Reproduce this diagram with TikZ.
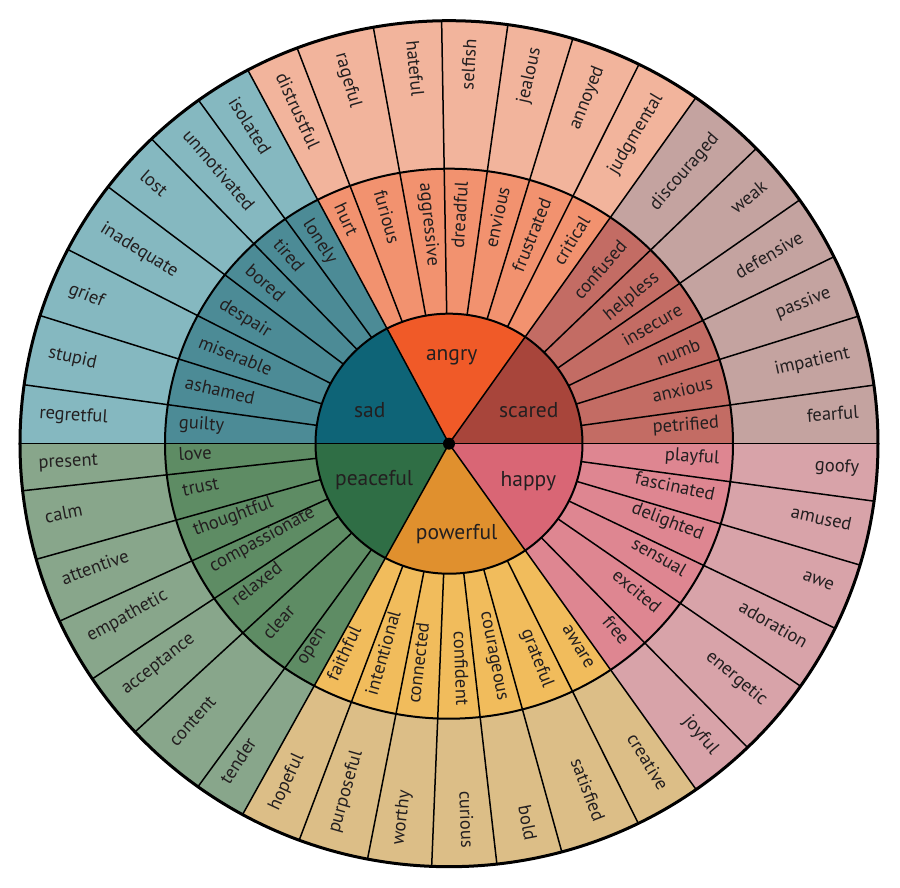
\documentclass[tikz,border=0pt]{standalone}
\usepackage{fontspec}
\setmainfont{PT Sans}
\definecolor{sadC}{HTML}{0E6477}
\definecolor{sadM}{HTML}{4C8B96}
\definecolor{sadO}{HTML}{85B8C0}
\definecolor{angC}{HTML}{F05A28}
\definecolor{angM}{HTML}{F2926F}
\definecolor{angO}{HTML}{F2B49C}
\definecolor{scaC}{HTML}{A8453B}
\definecolor{scaM}{HTML}{C36C64}
\definecolor{scaO}{HTML}{C4A3A0}
\definecolor{hapC}{HTML}{D96675}
\definecolor{hapM}{HTML}{DE8691}
\definecolor{hapO}{HTML}{D8A3A9}
\definecolor{powC}{HTML}{E0902E}
\definecolor{powM}{HTML}{F1BC5C}
\definecolor{powO}{HTML}{DCBE87}
\definecolor{peaC}{HTML}{2F6E45}
\definecolor{peaM}{HTML}{5E8C64}
\definecolor{peaO}{HTML}{88A68B}
\definecolor{txt}{HTML}{231F20}
\tikzset{
  lab/.style={font=\fontsize{18.5}{20}\selectfont, inner sep=0pt, text=txt},
  rlab/.style={lab, anchor=mid east},
  llab/.style={lab, anchor=mid west},
  corelab/.style={font=\fontsize{21.5}{24}\selectfont, inner sep=0pt, anchor=base, text=txt},
  radial/.style={line width=1.5pt, draw=black},
  ring/.style={line width=2pt, draw=black},
  rim/.style={line width=3pt, draw=black}
}
\begin{document}
\begin{tikzpicture}[x=1pt,y=1pt]
\useasboundingbox (-449,-444.3) rectangle (451,443.7);
% outer ring colours
\begin{scope}
\clip (0,0) ellipse [x radius=429pt, y radius=423pt];
\foreach \s/\e/\c in {0/54.5/scaO, 54.5/118.3/angO, 118.3/180/sadO, 180/240.9/peaO, 240.9/305.55/powO, 305.55/360/hapO}
  \fill[\c] (0,0) -- (\s:700pt) -- ({(\s+\e)/2}:700pt) -- (\e:700pt) -- cycle;
\end{scope}
% middle ring colours
\begin{scope}
\clip (0,0) ellipse [x radius=284pt, y radius=275pt];
\foreach \s/\e/\c in {0/54.5/scaM, 54.5/118.3/angM, 118.3/180/sadM, 180/240.9/peaM, 240.9/305.55/powM, 305.55/360/hapM}
  \fill[\c] (0,0) -- (\s:700pt) -- ({(\s+\e)/2}:700pt) -- (\e:700pt) -- cycle;
\end{scope}
% radial lines
\begin{scope}
\clip (0,0) ellipse [x radius=429pt, y radius=423pt];
\foreach \a in {0,7.85,17.3,25.9,34.8,43.85,54.5,63.4,73,82,91,100.3,111,118.3,126.1,134.3,143,153,162.6,172.1,180,186.3,195.65,204.5,213.4,222.55,233.8,240.9,249.3,258.9,267.65,276.5,285.45,296.5,305.55,314.5,325.4,334.45,343.55,352.3}
  \draw[radial] (0,0) -- (\a:700pt);
\end{scope}
% core
\begin{scope}
\clip (0,0) ellipse [x radius=133.5pt, y radius=130pt];
\foreach \s/\e/\c in {0/54.5/scaC, 54.5/118.3/angC, 118.3/180/sadC, 180/240.9/peaC, 240.9/305.55/powC, 305.55/360/hapC}
  \fill[\c] (0,0) -- (\s:700pt) -- ({(\s+\e)/2}:700pt) -- (\e:700pt) -- cycle;
\foreach \a in {0,54.5,118.3,180,240.9,305.55}
  \draw[radial] (0,0) -- (\a:700pt);
\end{scope}
\draw[ring] (0,0) ellipse [x radius=284pt, y radius=275pt];
\draw[ring] (0,0) ellipse [x radius=133.5pt, y radius=130pt];
\draw[rim] (0,0) ellipse [x radius=429pt, y radius=423pt];
\fill[black] (0,0) circle (6pt);
% labels, right half
\foreach \a/\o/\m [count=\i] in {3.93/fearful/petrified, 12.58/impatient/anxious, 21.6/passive/numb, 30.35/defensive/insecure, 39.33/weak/helpless, 49.18/discouraged/confused, 58.95/judgmental/critical, 68.2/annoyed/frustrated, 77.5/jealous/envious, 86.5/selfish/dreadful, -87.92/curious/confident, -79.02/bold/courageous, -69.02/satisfied/grateful, -58.97/creative/aware, -49.97/joyful/free, -40.05/energetic/excited, -30.07/adoration/sensual, -21/awe/delighted, -12.07/amused/fascinated, -3.85/goofy/playful}
{
  \node[rlab, rotate=\a] (ro\i) at (\a:411pt and 405pt) {\o};
  \node[rlab, rotate=\a] (rm\i) at (\a:271pt and 262pt) {\m};
}
% labels, left half
\foreach \a/\o/\m [count=\i] in {95.65/hateful/aggressive, 105.65/rageful/furious, 114.65/distrustful/hurt, 122.2/isolated/lonely, 130.2/unmotivated/tired, 138.65/lost/bored, 148/inadequate/despair, 157.8/grief/miserable, 167.35/stupid/ashamed, 176.05/regretful/guilty, 183.15/present/love, 190.98/calm/trust, 200.08/attentive/thoughtful, 208.95/empathetic/compassionate, 217.98/acceptance/relaxed, 228.18/content/clear, 237.35/tender/open, 245.1/hopeful/faithful, 254.1/purposeful/intentional, 263.28/worthy/connected}
{
  \node[llab, rotate=\a-180] (lo\i) at (\a:411pt and 405pt) {\o};
  \node[llab, rotate=\a-180] (lm\i) at (\a:271pt and 262pt) {\m};
}
% core labels
\node[corelab] (angry) at (2.7,82.7) {angry};
\node[corelab] (sad) at (-79.3,26) {sad};
\node[corelab] (scared) at (79.8,26) {scared};
\node[corelab] (peaceful) at (-74.8,-42.3) {peaceful};
\node[corelab] (happy) at (79.3,-43) {happy};
\node[corelab] (powerful) at (7.7,-96.3) {powerful};
\end{tikzpicture}
\end{document}
